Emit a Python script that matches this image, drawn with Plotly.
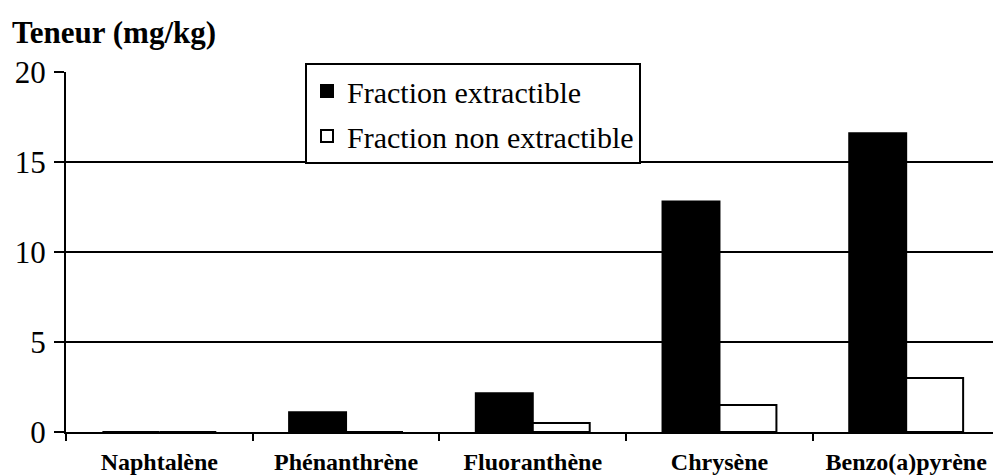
import plotly.graph_objects as go

# PAH contents (mg/kg) per compound
categories = ["Naphtalène", "Phénanthrène", "Fluoranthène", "Chrysène", "Benzo(a)pyrène"]
extractible = [0.0, 1.1, 2.15, 12.8, 16.6]
non_extractible = [0.0, 0.0, 0.5, 1.5, 3.0]
y_ticks = [0, 5, 10, 15, 20]

serif = "Liberation Serif"

fig = go.Figure()
fig.add_trace(go.Bar(
    x=categories, y=extractible, name="Fraction extractible",
    marker=dict(color="black", line=dict(color="black", width=2)),
    legendgroup="a",
))
fig.add_trace(go.Bar(
    x=categories, y=non_extractible, name="Fraction non extractible",
    marker=dict(color="white", line=dict(color="black", width=2)),
    legendgroup="b",
))

fig.update_layout(
    width=993, height=475,
    margin=dict(l=66, r=0, t=72, b=43),
    paper_bgcolor="white", plot_bgcolor="white",
    barmode="group", bargap=0.39, bargroupgap=0,
    font=dict(family=serif, color="black"),
    showlegend=True,
    legend=dict(
        x=(305 - 66) / 927, xanchor="left",
        y=(432 - 63) / 360, yanchor="top",
        bgcolor="white", bordercolor="black", borderwidth=2,
        font=dict(family=serif, size=30, color="black"),
        tracegroupgap=3, traceorder="grouped",
        itemwidth=30,
    ),
    xaxis=dict(
        type="category",
        range=[-0.5, 4.465],
        showline=True, linecolor="black", linewidth=2,
        ticks="outside", tickson="boundaries", ticklen=7, tickwidth=2, tickcolor="black",
        tickfont=dict(family=serif, size=24, color="black", weight="bold"),
        ticklabelstandoff=7,
        showgrid=False,
    ),
    yaxis=dict(
        range=[0, 20],
        tickvals=y_ticks,
        showline=True, linecolor="black", linewidth=2,
        ticks="outside", ticklen=10, tickwidth=2, tickcolor="black",
        tickfont=dict(family=serif, size=31, color="black"),
        ticklabelstandoff=2,
        showgrid=True, gridcolor="black", gridwidth=2,
        zeroline=False,
    ),
    annotations=[dict(
        text="<b>Teneur (mg/kg)</b>",
        xref="paper", yref="paper",
        x=(10 - 66) / 927, xanchor="left",
        y=(432 - 33) / 360, yanchor="middle",
        showarrow=False,
        font=dict(family=serif, size=31, color="black"),
    )],
)

fig.write_html("out.html")
